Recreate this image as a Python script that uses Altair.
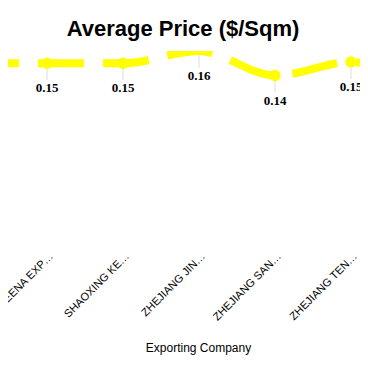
import altair as alt
import pandas as pd

companies = ["AARTI TEX…", "PRAVEENA EXP…", "SHAOXING KE…", "ZHEJIANG JIN…",
             "ZHEJIANG SAN…", "ZHEJIANG TEN…", "ZHEJIANG XIN…"]
prices = [0.150, 0.150, 0.150, 0.160, 0.140, 0.151, 0.120]
y_max = 0.16

df = pd.DataFrame({"company": companies, "price": prices})

x = alt.X(
    "company:N", sort=companies, title="Exporting Company",
    scale=alt.Scale(type="point", range=[-37, 419], padding=0),
    axis=alt.Axis(labelAngle=-45, labelFont="Liberation Sans", labelFontSize=11,
                  labelColor="#000000", domain=False, ticks=False, grid=False,
                  labelPadding=3, labelLimit=0,
                  titleFont="Liberation Sans", titleFontSize=12, titleFontWeight="normal",
                  titleColor="#000000", titleX=190, titleY=100, titleBaseline="middle"),
)
y = alt.Y("price:Q", scale=alt.Scale(domain=[0, y_max], nice=False, zero=True), axis=None)

base = alt.Chart(df).encode(x=x, y=y)

rule = base.mark_rule(color="#dddddd", strokeWidth=1, y2Offset=17).encode(y2="price:Q")
line = base.mark_line(color="#ffff00", strokeWidth=8, strokeDash=[46, 19],
                      strokeDashOffset=63, interpolate="monotone", clip=True)
points = base.mark_circle(color="#ffff00", size=133, opacity=1, clip=True).transform_filter(
    alt.datum.price < y_max)
text = base.mark_text(font="Liberation Serif", fontWeight="bold", fontSize=13, dy=25,
                      baseline="middle", color="#000000").encode(
    text=alt.Text("price:Q", format=".2f"))

chart = alt.layer(rule, line, points, text).properties(
    width=352, height=196,
    title=alt.TitleParams(text="Average Price ($/Sqm)", font="Liberation Sans", fontSize=22,
                          fontWeight="bold", color="#000000", anchor="middle", dx=-1, offset=10),
    padding={"left": 0, "top": 43, "right": 0, "bottom": 116},
    autosize=alt.AutoSizeParams(type="none"),
).configure_view(stroke=None)

chart.save("out.html", embed_options={"renderer": "svg", "actions": False})
